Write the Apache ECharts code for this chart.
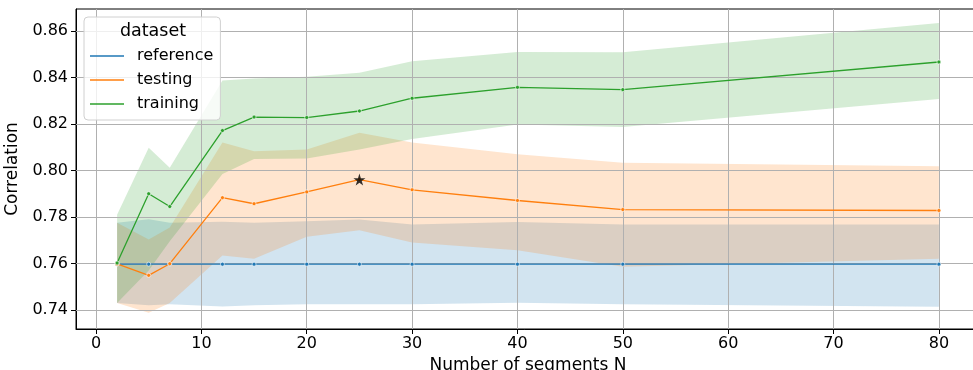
<!DOCTYPE html>
<html>
<head>
<meta charset="utf-8">
<script src="https://cdn.jsdelivr.net/npm/echarts@6/dist/echarts.min.js"></script>
<style>html,body{margin:0;padding:0;background:#fff}#c{width:973px;height:370px}</style>
</head>
<body>
<div id="c"></div>
<script>
const xValues = [2, 5, 7, 12, 15, 20, 25, 30, 40, 50, 80];

const referenceMean  = [0.7597, 0.7597, 0.7597, 0.7597, 0.7597, 0.7597, 0.7597, 0.7597, 0.7597, 0.7597, 0.7597];
const referenceLower = [0.7430, 0.7420, 0.7424, 0.7415, 0.7420, 0.7424, 0.7424, 0.7424, 0.7431, 0.7424, 0.7414];
const referenceUpper = [0.7775, 0.7790, 0.7775, 0.7780, 0.7775, 0.7782, 0.7789, 0.7768, 0.7778, 0.7768, 0.7768];

const testingMean  = [0.7598, 0.7549, 0.7599, 0.7883, 0.7857, 0.7908, 0.7961, 0.7917, 0.7871, 0.7832, 0.7828];
const testingLower = [0.7430, 0.7388, 0.7430, 0.7634, 0.7620, 0.7715, 0.7743, 0.7690, 0.7657, 0.7586, 0.7620];
const testingUpper = [0.7775, 0.7703, 0.7755, 0.8120, 0.8083, 0.8090, 0.8163, 0.8120, 0.8070, 0.8033, 0.8018];

const trainingMean  = [0.7602, 0.7900, 0.7845, 0.8172, 0.8230, 0.8228, 0.8256, 0.8311, 0.8358, 0.8348, 0.8467];
const trainingLower = [0.7430, 0.7570, 0.7696, 0.7985, 0.8050, 0.8052, 0.8090, 0.8136, 0.8198, 0.8187, 0.8308];
const trainingUpper = [0.7810, 0.8098, 0.8012, 0.8387, 0.8396, 0.8403, 0.8421, 0.8470, 0.8510, 0.8509, 0.8635];

const bestPoint = [25, 0.7961];

const xTicks = [0, 10, 20, 30, 40, 50, 60, 70, 80];
const yTicks = [0.74, 0.76, 0.78, 0.80, 0.82, 0.84, 0.86];
const yTickLabels = ['0.74', '0.76', '0.78', '0.80', '0.82', '0.84', '0.86'];

const FONT = 'DejaVu Sans';
const colors = { reference: '#1f77b4', testing: '#ff7f0e', training: '#2ca02c' };
const fills = { reference: 'rgba(31,119,180,0.2)', testing: 'rgba(255,127,14,0.2)', training: 'rgba(44,160,44,0.2)' };

function bandSeries(name, lower, upper) {
  return {
    type: 'custom',
    name: name + '_band',
    silent: true,
    clip: true,
    z: 1,
    data: xValues.map((x, i) => [x, lower[i], upper[i]]),
    encode: { x: 0, y: [1, 2] },
    renderItem: function (params, api) {
      if (params.dataIndex !== 0) return null;
      const pts = [];
      for (let i = 0; i < xValues.length; i++) pts.push(api.coord([xValues[i], upper[i]]));
      for (let i = xValues.length - 1; i >= 0; i--) pts.push(api.coord([xValues[i], lower[i]]));
      return { type: 'polygon', shape: { points: pts }, style: { fill: fills[name], stroke: null } };
    }
  };
}

function lineSeries(name, mean) {
  return {
    type: 'line',
    name: name,
    z: 4,
    data: xValues.map((x, i) => [x, mean[i]]),
    symbol: 'circle',
    symbolSize: 4,
    showSymbol: true,
    lineStyle: { color: colors[name], width: 1.3 },
    itemStyle: { color: colors[name], borderColor: '#fff', borderWidth: 0.6 },
    emphasis: { disabled: true },
    animation: false
  };
}

const gridSeries = {
  type: 'line',
  name: 'grid',
  z: 3,
  silent: true,
  data: [],
  symbol: 'none',
  markLine: {
    silent: true,
    z: 3,
    symbol: 'none',
    animation: false,
    label: { show: false },
    emphasis: { disabled: true },
    lineStyle: { color: '#b0b0b0', width: 1, type: 'solid' },
    data: xTicks.map(v => ({ xAxis: v })).concat(yTicks.map(v => ({ yAxis: v })))
  }
};

const chart = echarts.init(document.getElementById('c'), null, { renderer: 'canvas' });
chart.setOption({
  animation: false,
  backgroundColor: '#fff',
  grid: { left: 76, right: -7, top: 9, bottom: 41, containLabel: false, outerBoundsMode: 'none',
    show: true, borderColor: '#000', borderWidth: 1, backgroundColor: 'transparent' },
  xAxis: {
    type: 'value', min: -1.9, max: 83.9,
    name: 'Number of segments N', nameLocation: 'middle', nameGap: 25,
    nameTextStyle: { fontFamily: FONT, fontSize: 17, color: '#000' },
    axisLine: { show: true, onZero: false, lineStyle: { color: '#000', width: 1 } },
    axisTick: { show: true, length: 5, customValues: xTicks, lineStyle: { color: '#000', width: 1 } },
    axisLabel: { customValues: xTicks, fontFamily: FONT, fontSize: 16, color: '#000', margin: 7 },
    splitLine: { show: false }
  },
  yAxis: {
    type: 'value', min: 0.7318, max: 0.8695,
    name: 'Correlation', nameLocation: 'middle', nameGap: 49,
    nameTextStyle: { fontFamily: FONT, fontSize: 17, color: '#000' },
    axisLine: { show: true, onZero: false, lineStyle: { color: '#000', width: 1 } },
    axisTick: { show: true, length: 5, customValues: yTicks, lineStyle: { color: '#000', width: 1 } },
    axisLabel: { customValues: yTicks, fontFamily: FONT, fontSize: 16, color: '#000', margin: 8,
      formatter: v => { const i = yTicks.findIndex(t => Math.abs(t - v) < 1e-9); return i >= 0 ? yTickLabels[i] : ''; } },
    splitLine: { show: false }
  },
  legend: {
    data: ['reference', 'testing', 'training'],
    orient: 'vertical',
    left: 84, top: 17,
    padding: [27, 7, 4, 6],
    itemGap: 0,
    itemWidth: 34, itemHeight: 1.6,
    icon: 'rect',
    itemStyle: { borderWidth: 0 },
    backgroundColor: 'rgba(255,255,255,0.8)',
    borderColor: '#d0d0d0', borderWidth: 1, borderRadius: 4,
    textStyle: { fontFamily: FONT, fontSize: 16, color: '#000', lineHeight: 24, padding: [0, 0, 0, 8] },
    selectedMode: false
  },
  graphic: [{
    type: 'text', x: 153, y: 22, z: 100,
    style: { text: 'dataset', fontFamily: FONT, fontSize: 17.5, fill: '#000', textAlign: 'center', textVerticalAlign: 'top' }
  }],
  series: [
    bandSeries('reference', referenceLower, referenceUpper),
    bandSeries('testing', testingLower, testingUpper),
    bandSeries('training', trainingLower, trainingUpper),
    gridSeries,
    lineSeries('reference', referenceMean),
    lineSeries('testing', testingMean),
    lineSeries('training', trainingMean),
    {
      type: 'scatter', name: 'best', z: 5,
      data: [bestPoint],
      symbol: 'path://M50,0 L61.2,34.5 L97.6,34.5 L68.2,55.9 L79.4,90.5 L50,69.1 L20.6,90.5 L31.8,55.9 L2.4,34.5 L38.8,34.5 Z',
      symbolSize: 12,
      itemStyle: { color: '#000' },
      silent: true
    }
  ]
});
</script>
</body>
</html>
